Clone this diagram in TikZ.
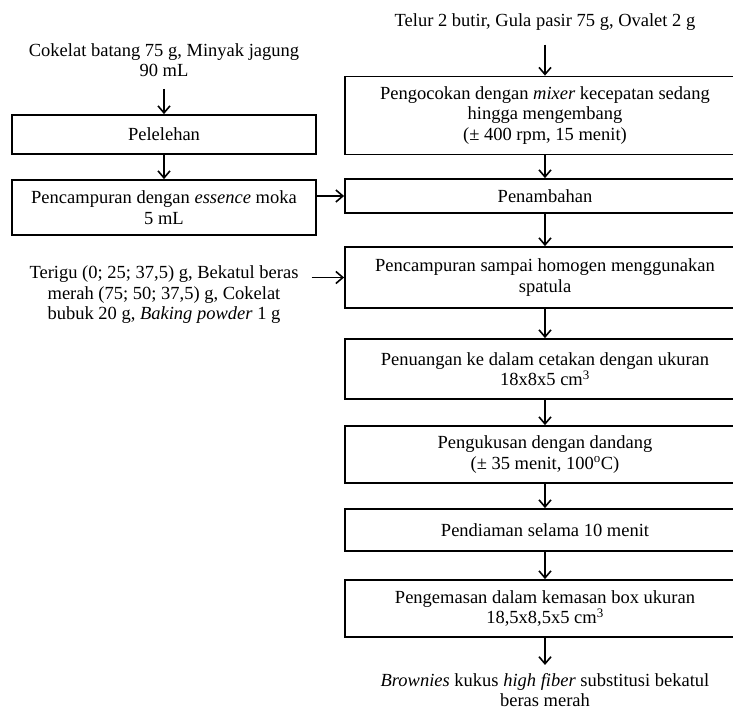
\documentclass[tikz,border=0pt]{standalone}
\usepackage{fontspec}
\setmainfont{Liberation Serif}
\usetikzlibrary{positioning, calc, arrows.meta}

\newcommand{\flowfont}{\fontsize{18.5}{20.5}\selectfont}

\tikzset{
    procbox/.style={draw, line width=1.8pt, align=center, inner sep=0pt, font=\flowfont},
    leftbox/.style={procbox, minimum width=304pt},
    rightbox/.style={procbox, minimum width=400pt},
    note/.style={align=center, inner sep=0pt, font=\flowfont},
    flow/.style={-{Straight Barb[length=7pt,width=12pt]}, line width=1.6pt}
}

\begin{document}
\begin{tikzpicture}[x=1pt, y=-1pt]
    \path[use as bounding box, fill=white] (0,0) rectangle (733,711);

    % left column
    \node[note] (choc) at (164,60) {Cokelat batang 75 g, Minyak jagung\\90 mL};
    \node[leftbox, minimum height=39pt] (melt) at (164,134.5) {Pelelehan};
    \node[leftbox, minimum height=55pt] (essence) at (164,207.5) {Pencampuran dengan \textit{essence} moka\\5 mL};
    \node[note] (flour) at (164,295) {Terigu (0; 25; 37,5) g, Bekatul beras\\merah (75; 50; 37,5) g, Cokelat\\bubuk 20 g, \textit{Baking powder} 1 g};

    % right column
    \node[note] (egg) at (545,22) {Telur 2 butir, Gula pasir 75 g, Ovalet 2 g};
    \node[rightbox, minimum height=78pt] (whisk) at (545,115.5) {Pengocokan dengan \textit{mixer} kecepatan sedang\\hingga mengembang\\(± 400 rpm, 15 menit)};
    \node[rightbox, minimum height=34pt] (add) at (545,196) {Penambahan};
    \node[rightbox, minimum height=61pt] (mix) at (545,277.5) {Pencampuran sampai homogen menggunakan\\spatula};
    \node[rightbox, minimum height=60pt] (pour) at (545,369) {Penuangan ke dalam cetakan dengan ukuran\\18x8x5 cm\textsuperscript{3}};
    \node[rightbox, minimum height=57pt] (steam) at (545,454.5) {Pengukusan dengan dandang\\(± 35 menit, 100\textsuperscript{o}C)};
    \node[rightbox, minimum height=42pt] (rest) at (545,530) {Pendiaman selama 10 menit};
    \node[rightbox, minimum height=57pt] (pack) at (545,608.5) {Pengemasan dalam kemasan box ukuran\\18,5x8,5x5 cm\textsuperscript{3}};
    \node[note] (result) at (545,690) {\textit{Brownies} kukus \textit{high fiber} substitusi bekatul\\beras merah};

    % arrows
    \draw[flow, shorten <=12pt] (choc) -- (melt);
    \draw[flow] (melt) -- (essence);
    \draw[flow] (essence.east |- add.west) -- (add.west);
    \draw[flow, shorten <=13pt] (flour.east |- mix.west) -- (mix.west);
    \draw[flow, shorten <=14pt] (egg) -- (whisk);
    \draw[flow] (whisk) -- (add);
    \draw[flow] (add) -- (mix);
    \draw[flow] (mix) -- (pour);
    \draw[flow] (pour) -- (steam);
    \draw[flow] (steam) -- (rest);
    \draw[flow] (rest) -- (pack);
    \draw[flow, shorten >=8pt] (pack) -- (result);
\end{tikzpicture}
\end{document}
